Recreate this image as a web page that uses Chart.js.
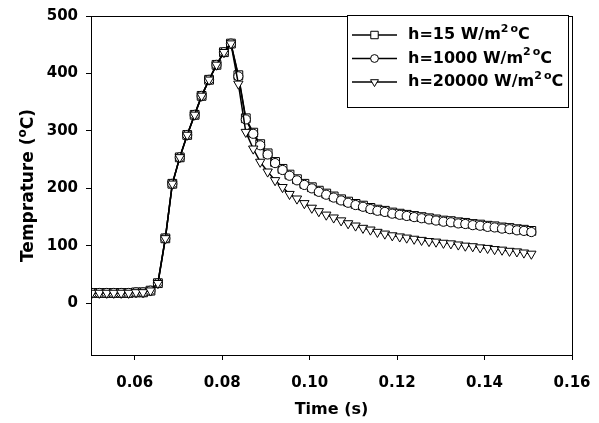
<!DOCTYPE html>
<html>
<head>
<meta charset="utf-8">
<script src="https://cdn.jsdelivr.net/npm/chart.js@4"></script>
<style>
  body { margin: 0; background: #fff; }
</style>
</head>
<body>
<canvas id="tempChart" width="599" height="423"></canvas>
<script>
// time (s)
const times = [
  0.0502, 0.0519, 0.0536, 0.0552, 0.0569, 0.0586, 0.0603, 0.0619, 0.0636, 0.0653,
  0.0670, 0.0686, 0.0703, 0.0720, 0.0737, 0.0753, 0.0770, 0.0787, 0.0804, 0.0820,
  0.0837, 0.0854, 0.0871, 0.0887, 0.0904, 0.0921, 0.0938, 0.0954, 0.0971, 0.0988,
  0.1005, 0.1021, 0.1038, 0.1055, 0.1072, 0.1088, 0.1105, 0.1122, 0.1139, 0.1155,
  0.1172, 0.1189, 0.1206, 0.1222, 0.1239, 0.1256, 0.1273, 0.1289, 0.1306, 0.1323,
  0.1340, 0.1356, 0.1373, 0.1390, 0.1407, 0.1423, 0.1440, 0.1457, 0.1474, 0.1490,
  0.1507
];
// temperature (C) for each h
const h15 = [
  18, 18, 18, 18, 18, 18, 19, 19, 22, 35,
  113, 208, 254, 293, 328, 361, 389, 415, 437, 452,
  397, 322, 297, 277, 261, 246, 234, 224, 216, 208,
  202, 196, 191, 186, 181, 177, 173, 170, 166, 163,
  161, 158, 156, 154, 152, 150, 148, 146, 144, 143,
  141, 140, 138, 137, 135, 134, 132, 131, 129, 128,
  126
];
const h1000 = [
  18, 18, 18, 18, 18, 18, 19, 19, 22, 35,
  113, 208, 254, 293, 328, 361, 389, 415, 437, 452,
  395, 320, 295, 275, 259, 244, 232, 222, 214, 206,
  200, 194, 189, 184, 179, 175, 171, 168, 164, 161,
  159, 156, 154, 152, 150, 148, 146, 144, 142, 141,
  139, 138, 136, 135, 133, 132, 130, 129, 127, 126,
  124
];
const h20000 = [
  18, 18, 18, 18, 18, 18, 19, 19, 22, 35,
  113, 208, 254, 293, 328, 361, 389, 415, 437, 452,
  382, 298, 269, 246, 229, 214, 202, 190, 182, 174,
  166, 160, 154, 149, 144, 139, 135, 131, 128, 124,
  121, 118, 116, 114, 112, 110, 108, 107, 105, 104,
  102, 100, 99, 97, 96, 94, 93, 91, 90, 88,
  86
];
const seriesLabels = ['h=15', 'h=1000', 'h=20000'];
const seriesMarkers = ['rect', 'circle', 'triangle'];
const xTickValues = [0.06, 0.08, 0.10, 0.12, 0.14, 0.16];
const yTickValues = [0, 100, 200, 300, 400, 500];

const FONT = '"DejaVu Sans"';

function makeSet(label, values, style, order) {
  return {
    label: label,
    data: times.map((t, i) => ({ x: t, y: values[i] })),
    borderColor: '#000',
    borderWidth: 1.5,
    pointStyle: style,
    pointRotation: style === 'triangle' ? 180 : 0,
    pointRadius: style === 'rect' ? 6.2 : (style === 'circle' ? 4.6 : 5.4),
    pointBackgroundColor: '#fff',
    pointBorderColor: '#000',
    pointBorderWidth: 1,
    order: order
  };
}

// frame around plot area (top and right sides)
const framePlugin = {
  id: 'frame',
  afterDatasetsDraw(chart) {
    const { left, right, top, bottom } = chart.chartArea;
    const ctx = chart.ctx;
    ctx.save();
    ctx.strokeStyle = '#000';
    ctx.lineWidth = 1;
    ctx.strokeRect(Math.round(left) + 0.5, Math.round(top) + 0.5, Math.round(right - left), Math.round(bottom - top));
    ctx.restore();
  }
};

// y title with superscript o
const yTitlePlugin = {
  id: 'yTitle',
  afterDraw(chart) {
    const ctx = chart.ctx;
    const { top, bottom } = chart.chartArea;
    const parts = [['Temprature (', 17, 0], ['o', 12, -7], ['C)', 17, 0]];
    ctx.save();
    ctx.translate(33, (top + bottom) / 2);
    ctx.rotate(-Math.PI / 2);
    ctx.fillStyle = '#000';
    ctx.textBaseline = 'alphabetic';
    let total = 0;
    parts.forEach(p => { ctx.font = 'bold ' + p[1] + 'px ' + FONT; total += ctx.measureText(p[0]).width; });
    let x = -total / 2;
    parts.forEach(p => {
      ctx.font = 'bold ' + p[1] + 'px ' + FONT;
      ctx.fillText(p[0], x, p[2]);
      x += ctx.measureText(p[0]).width;
    });
    ctx.restore();
  }
};

// legend box in the top right corner
const legendPlugin = {
  id: 'boxLegend',
  afterDraw(chart) {
    const ctx = chart.ctx;
    const bx = 347, by = 15, bw = 221, bh = 92;
    const rows = [35, 58.5, 82];
    ctx.save();
    ctx.fillStyle = '#fff';
    ctx.fillRect(bx, by, bw, bh);
    ctx.strokeStyle = '#000';
    ctx.lineWidth = 1;
    ctx.strokeRect(bx + 0.5, by + 0.5, bw, bh);
    chart.data.datasets.forEach((ds, i) => {
      const y = rows[i];
      ctx.strokeStyle = '#000';
      ctx.lineWidth = 1.5;
      ctx.beginPath();
      ctx.moveTo(352, y);
      ctx.lineTo(397, y);
      ctx.stroke();
      ctx.fillStyle = '#fff';
      ctx.lineWidth = 1;
      Chart.helpers.drawPoint(ctx, {
        pointStyle: ds.pointStyle,
        rotation: ds.pointRotation,
        radius: ds.pointRadius * 0.85,
        borderWidth: 1
      }, 374.5, y);
      ctx.fillStyle = '#000';
      ctx.textBaseline = 'middle';
      const parts = [[seriesLabels[i] + ' W/m', 16, 0], ['2', 11, -6], [' ', 6, 0], ['o', 11, -6], ['C', 16, 0]];
      let x = 408;
      parts.forEach(p => {
        ctx.font = 'bold ' + p[1] + 'px ' + FONT;
        ctx.fillText(p[0], x, y + p[2]);
        x += ctx.measureText(p[0]).width;
      });
    });
    ctx.restore();
  }
};

new Chart(document.getElementById('tempChart').getContext('2d'), {
  type: 'line',
  data: {
    datasets: [
      makeSet(seriesLabels[0], h15, seriesMarkers[0], 3),
      makeSet(seriesLabels[1], h1000, seriesMarkers[1], 2),
      makeSet(seriesLabels[2], h20000, seriesMarkers[2], 1)
    ]
  },
  options: {
    responsive: false,
    animation: false,
    layout: { padding: { top: 16, right: 27, bottom: 0, left: 0 } },
    plugins: {
      legend: { display: false },
      tooltip: { enabled: false }
    },
    scales: {
      x: {
        type: 'linear',
        min: 0.05,
        max: 0.16,
        afterBuildTicks: scale => { scale.ticks = xTickValues.map(v => ({ value: v })); },
        afterFit: scale => {
          scale.height = 68;
          scale.paddingLeft = 0;
          scale.paddingRight = 0;
        },
        grid: { drawOnChartArea: false, drawTicks: true, tickLength: 5, color: '#000' },
        border: { display: true, color: '#000', width: 1 },
        ticks: {
          color: '#000',
          padding: 14,
          maxRotation: 0,
          font: { family: FONT, size: 15, weight: 'bold' },
          callback: v => v.toFixed(2)
        },
        title: {
          display: true,
          text: 'Time (s)',
          color: '#000',
          font: { family: FONT, size: 16, weight: 'bold' },
          padding: { top: 0, bottom: 4 }
        }
      },
      y: {
        min: -90,
        max: 500,
        afterBuildTicks: scale => { scale.ticks = yTickValues.map(v => ({ value: v })); },
        afterFit: scale => {
          scale.width = 91;
          scale.paddingTop = 0;
          scale.paddingBottom = 0;
        },
        grid: { drawOnChartArea: false, drawTicks: true, tickLength: 5, color: '#000' },
        border: { display: true, color: '#000', width: 1 },
        ticks: {
          color: '#000',
          padding: 8,
          font: { family: FONT, size: 15, weight: 'bold' }
        }
      }
    }
  },
  plugins: [framePlugin, yTitlePlugin, legendPlugin]
});
</script>
</body>
</html>
